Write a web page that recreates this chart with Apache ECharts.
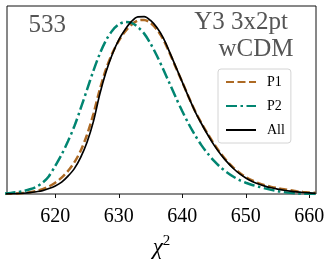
<!DOCTYPE html>
<html>
<head>
<meta charset="utf-8">
<script src="https://cdn.jsdelivr.net/npm/echarts@6/dist/echarts.min.js"></script>
<style>
html,body{margin:0;padding:0;background:#fff;}
#c{width:332px;height:264px;}
</style>
</head>
<body>
<div id="c"></div>
<script>
// chi^2 grid (x) and curve heights (% of plot height)
const chi2 = [612,613,614,615,616,617,618,619,620,621,622,623,624,625,626,627,628,629,630,631,632,633,634,635,636,637,638,639,640,641,642,643,644,645,646,647,648,649,650,651,652,653,654,655,656,657,658,659,660,661];
const p1 = [0,0.15,0.3,0.55,0.95,1.6,2.6,4.0,6.0,8.7,12.2,16.8,23,31.5,42.5,55.5,66.5,75,81.5,86.5,90,92.2,92.6,91,87.5,82.2,75,67.2,59.5,51.6,44.2,37.8,32,26.6,21.8,17.6,14.2,11.3,9.0,7.2,5.8,4.7,3.8,3.1,2.5,2.0,1.5,1.1,0.8,0.6];
const p2 = [0.3,0.6,1.0,1.6,2.5,3.8,6.0,9.5,15,21,28,36,45.5,55.5,65.5,74.5,81.8,87,90.2,91.5,91,88.8,85.3,80,73.5,66.3,58.8,51.2,44,37.3,31.3,26,21.5,17.6,14.3,11.6,9.3,7.4,6.0,4.8,3.9,3.0,2.2,1.5,1.0,0.6,0.35,0.2,0.1,0.05];
const all = [0,0.1,0.2,0.4,0.7,1.2,1.8,2.9,4.3,6.3,9.5,13.5,19.5,27.5,38.5,53,65,74.5,82,87.5,91.8,94.2,94.3,92.3,88.5,83,75.5,67.5,59.5,51.5,44,37.5,31.5,26,21.3,17.2,13.7,10.8,8.5,6.7,5.3,4.2,3.3,2.6,2.0,1.5,1.1,0.8,0.6,0.4];
const tickValues = [620,630,640,650,660];
const seriesNames = ['P1','P2','All'];

const zip = (xs, ys) => xs.map((x, i) => [x, ys[i]]);
const serif = 'Liberation Serif, Times New Roman, serif';

const chart = echarts.init(document.getElementById('c'), null, {renderer: 'canvas'});
chart.setOption({
  animation: false,
  backgroundColor: '#fff',
  grid: {left: 7, right: 16, top: 6, bottom: 64, show: true, borderColor: '#111', borderWidth: 1, backgroundColor: 'transparent'},
  xAxis: {
    type: 'value', min: 612.4, max: 661.05,
    axisLine: {show: false},
    splitLine: {show: false},
    axisTick: {show: true, customValues: tickValues, length: 4, lineStyle: {color: '#111', width: 1}},
    axisLabel: {customValues: tickValues, margin: 13, fontFamily: serif, fontSize: 20, color: '#000'},
    name: '{a|χ}{b|2}', nameLocation: 'middle', nameGap: 40,
    nameTextStyle: {rich: {
      a: {fontFamily: serif, fontStyle: 'italic', fontSize: 23, color: '#000', verticalAlign: 'bottom'},
      b: {fontFamily: serif, fontSize: 15, color: '#000', verticalAlign: 'top', padding: [0, 0, 10, 0]}
    }}
  },
  yAxis: {type: 'value', min: 0, max: 100, show: false},
  legend: {
    orient: 'vertical', left: 218, top: 69,
    data: seriesNames,
    itemWidth: 30, itemHeight: 14, itemGap: 10,
    padding: [6, 6, 6, 7],
    backgroundColor: 'rgba(255,255,255,0.85)',
    borderColor: '#d4d4d4', borderWidth: 1, borderRadius: 3,
    itemStyle: {opacity: 0},
    textStyle: {fontFamily: serif, fontSize: 14, color: '#000', padding: [0, 0, 0, 6]}
  },
  series: [
    {name: seriesNames[0], type: 'line', data: zip(chi2, p1), smooth: 0.3, symbol: 'none',
     lineStyle: {color: '#ad6a24', width: 2.5, type: [8, 3.5]}, itemStyle: {color: '#ad6a24'}},
    {name: seriesNames[1], type: 'line', data: zip(chi2, p2), smooth: 0.3, symbol: 'none',
     lineStyle: {color: '#018571', width: 2.5, type: [11, 3.5, 2.5, 3.5]}, itemStyle: {color: '#018571'}},
    {name: seriesNames[2], type: 'line', data: zip(chi2, all), smooth: 0.3, symbol: 'none',
     lineStyle: {color: '#000', width: 1.7}, itemStyle: {color: '#000'}}
  ],
  graphic: [
    {type: 'text', left: 28.5, top: 13, style: {text: '533', font: '25px ' + serif, fill: '#555'}},
    {type: 'text', right: 44, top: 10, style: {text: 'Y3 3x2pt', font: '25px ' + serif, fill: '#555'}},
    {type: 'text', right: 38.5, top: 37, style: {text: 'wCDM', font: '25px ' + serif, fill: '#555'}}
  ]
});
</script>
</body>
</html>
